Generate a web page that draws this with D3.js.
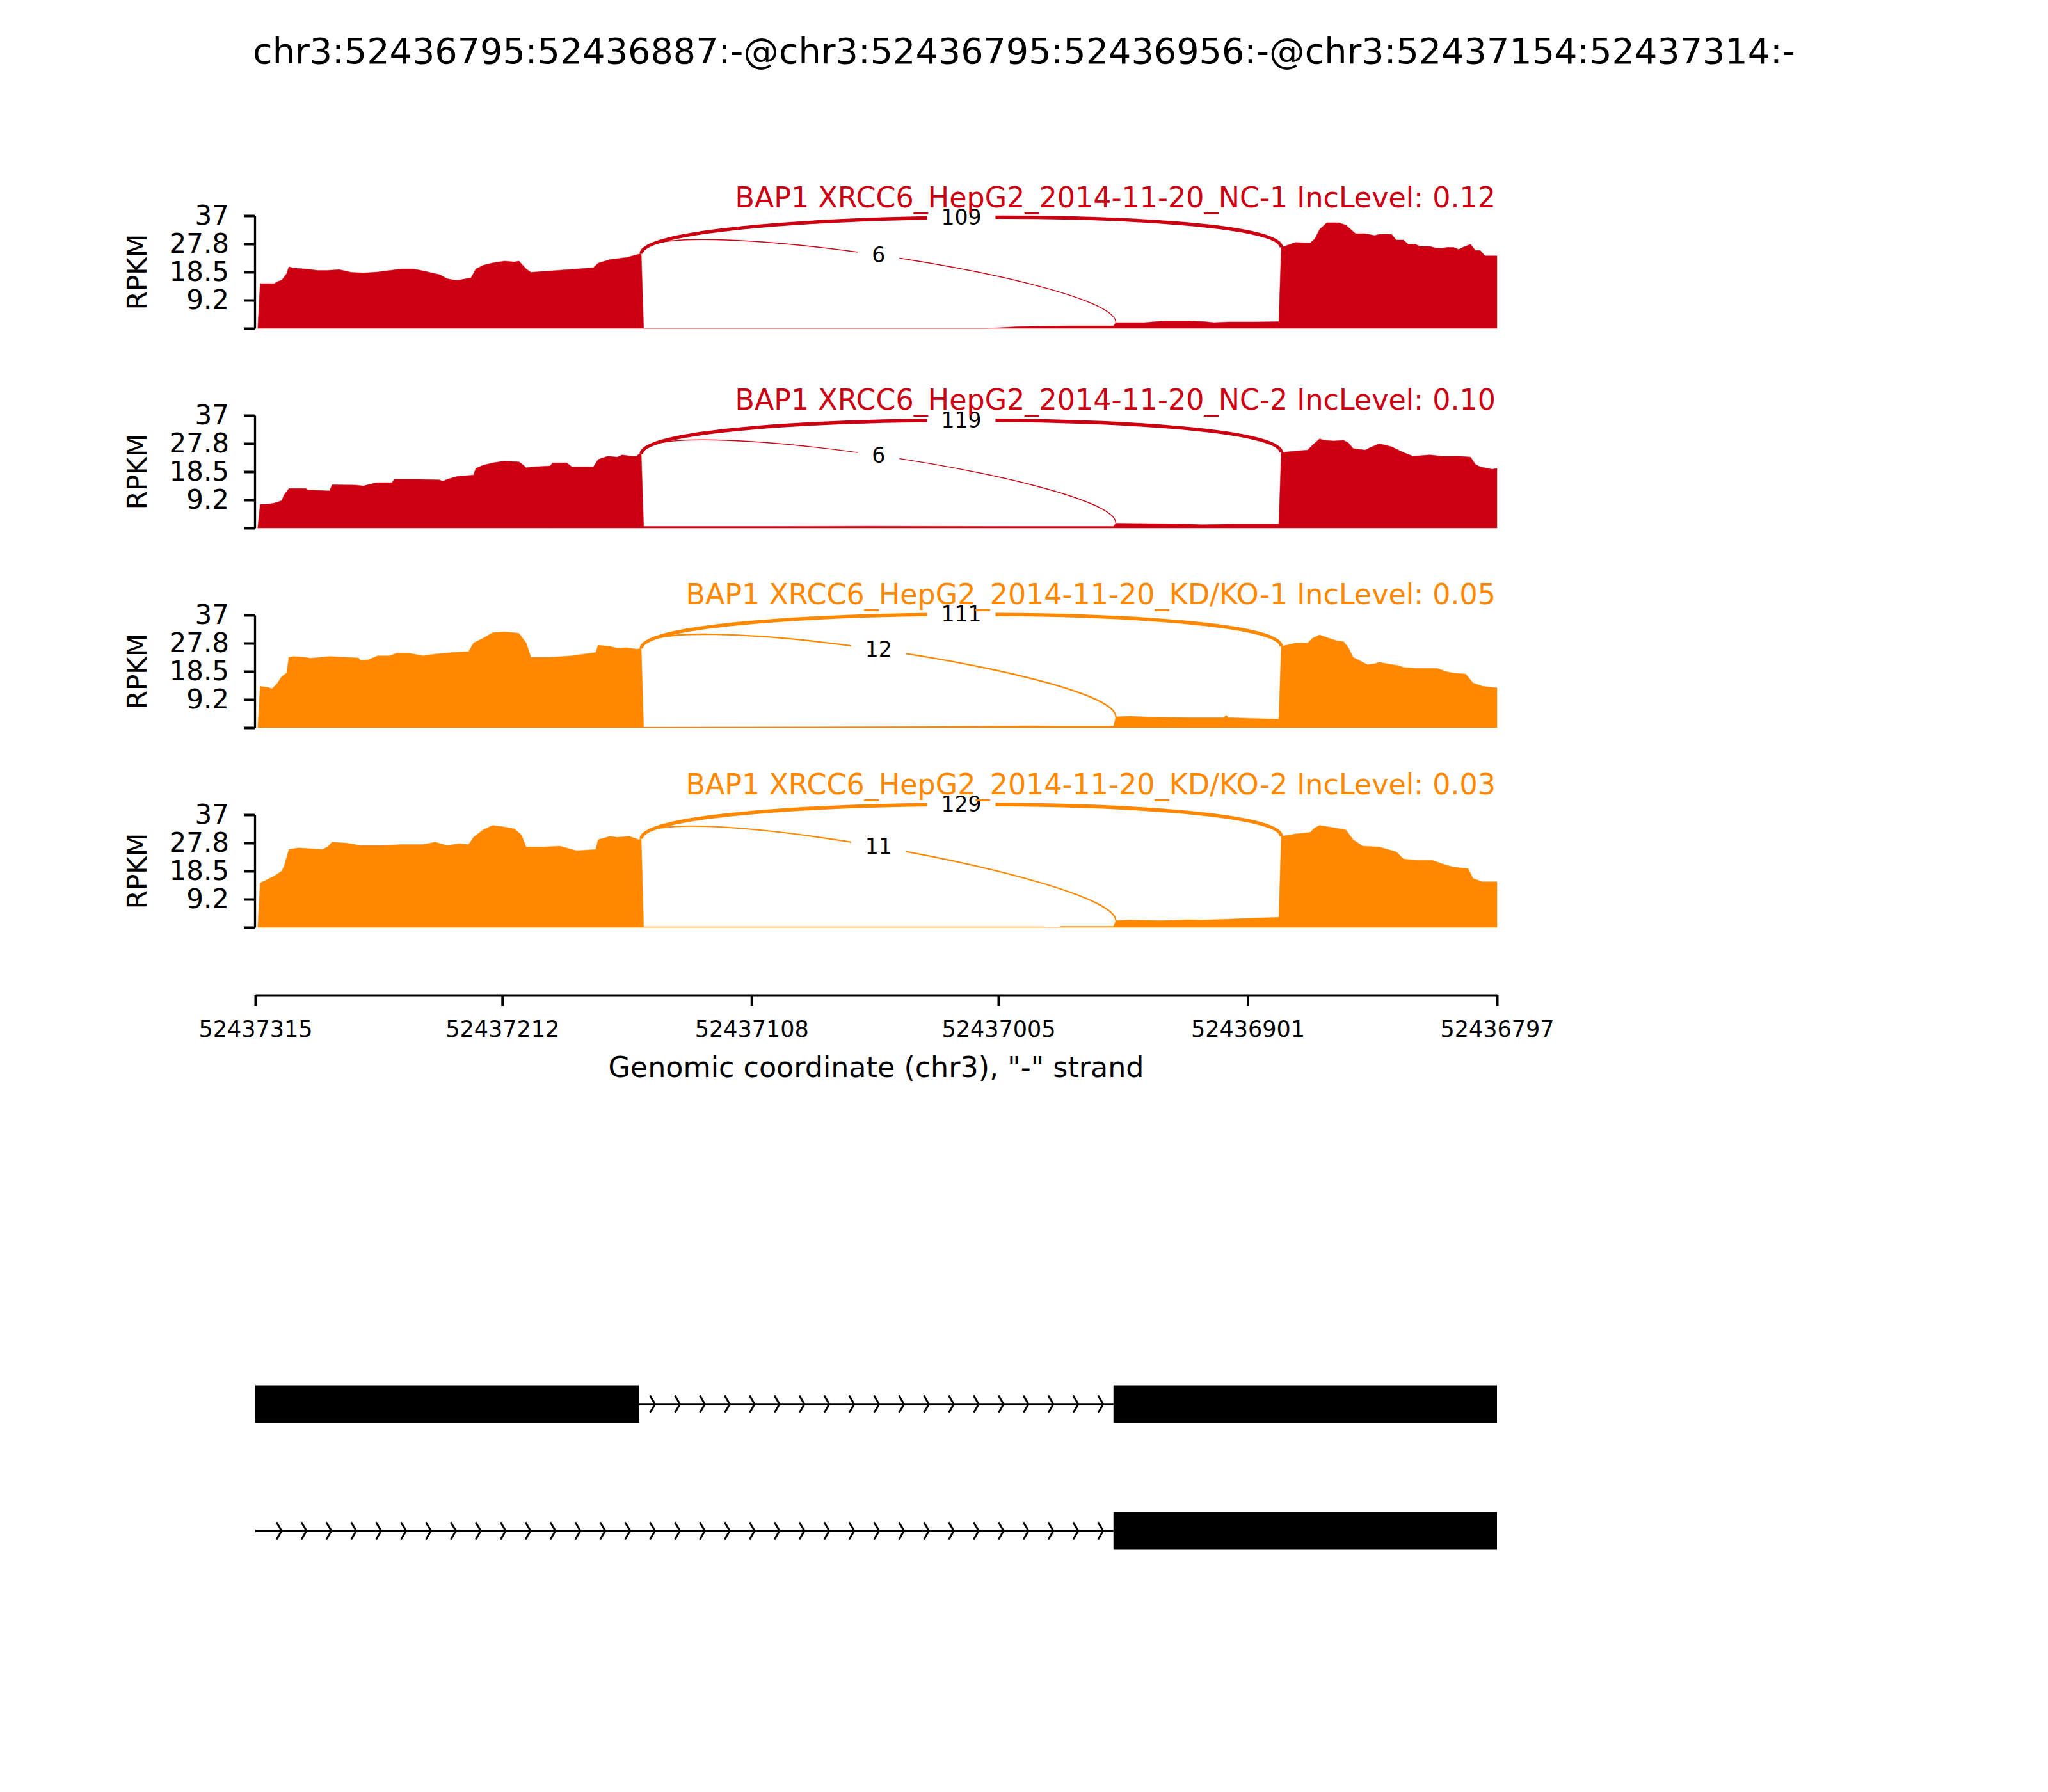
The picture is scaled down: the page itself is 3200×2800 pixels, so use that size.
<!DOCTYPE html>
<html><head><meta charset="utf-8">
<script src="https://cdn.jsdelivr.net/npm/d3@7"></script>
<style>
body{margin:0;background:#fff}
svg text{font-family:"DejaVu Sans",sans-serif}
</style>
</head><body>
<svg id="chart" width="3200" height="2800"></svg>
<script>
// ---------------- DATA ----------------
const titleText = "chr3:52436795:52436887:-@chr3:52436795:52436956:-@chr3:52437154:52437314:-";
const sampleNames = [
  "BAP1 XRCC6_HepG2_2014-11-20_NC-1",
  "BAP1 XRCC6_HepG2_2014-11-20_NC-2",
  "BAP1 XRCC6_HepG2_2014-11-20_KD/KO-1",
  "BAP1 XRCC6_HepG2_2014-11-20_KD/KO-2"
];
const incLevels = ["0.12", "0.10", "0.05", "0.03"];
const sampleColors = ["#CC0011", "#CC0011", "#FF8800", "#FF8800"];
const xDomain = [52437315, 52436797];
const xTicks = [52437315, 52437212, 52437108, 52437005, 52436901, 52436797];
const yMax = 37;
const yTicks = [0, 9.25, 18.5, 27.75, 37];
const yTickLabels = ["", "9.2", "18.5", "27.8", "37"];
const junctions = [[52437154, 52436887], [52437154, 52436956]];
const junctionCounts = [[109, 6], [119, 6], [111, 12], [129, 11]];
const isoform1Exons = [[52437154, 52437314], [52436795, 52436956]];
const isoform2Exons = [[52436795, 52436956]];

const covNC1 = [[52437314,0],[52437313,14.7],[52437307,14.7],[52437306,15.3],[52437304,15.8],[52437302,17.9],[52437301,20.2],[52437299,19.8],[52437294,19.5],[52437289,19.0],[52437285,19.0],[52437280,19.3],[52437275,18.4],[52437270,18.2],[52437264,18.5],[52437259,19.0],[52437254,19.5],[52437249,19.5],[52437244,18.7],[52437238,17.6],[52437235,16.3],[52437231,15.7],[52437225,16.6],[52437223,19.5],[52437220,20.7],[52437216,21.5],[52437211,22.1],[52437207,21.8],[52437205,22.1],[52437202,19.5],[52437200,18.4],[52437195,18.7],[52437188,19.1],[52437181,19.5],[52437174,19.9],[52437172,21.4],[52437167,22.6],[52437160,23.3],[52437156,24.2],[52437154,24.5],[52437153,0],[52437010,0],[52436996,0.6],[52436975,0.8],[52436957,0.8],[52436956,1.9],[52436944,1.9],[52436941,2.1],[52436936,2.4],[52436926,2.4],[52436919,2.2],[52436915,1.9],[52436909,2.1],[52436898,2.1],[52436888,2.2],[52436887,26.6],[52436881,28.2],[52436875,28.0],[52436873,29.4],[52436871,32.5],[52436868,34.7],[52436863,34.7],[52436860,33.9],[52436856,31.1],[52436852,31.1],[52436848,30.5],[52436846,30.9],[52436841,30.9],[52436839,29.0],[52436836,29.0],[52436834,27.6],[52436831,27.6],[52436829,26.9],[52436825,26.9],[52436822,26.3],[52436820,26.3],[52436818,26.6],[52436815,26.6],[52436813,25.9],[52436811,26.7],[52436808,27.6],[52436806,25.6],[52436804,25.6],[52436802,23.8],[52436797,23.8]];

const covNC2 = [[52437314,0],[52437313,7.8],[52437310,7.8],[52437307,8.2],[52437304,9.0],[52437303,10.9],[52437301,13.0],[52437294,13.0],[52437293,12.5],[52437284,12.2],[52437283,14.2],[52437273,14.1],[52437270,13.8],[52437266,14.6],[52437264,14.9],[52437258,14.9],[52437257,16.0],[52437247,16.0],[52437238,15.8],[52437237,15.3],[52437235,16.0],[52437231,16.9],[52437224,17.4],[52437223,19.6],[52437220,20.6],[52437216,21.4],[52437211,22.0],[52437205,21.7],[52437204,21.2],[52437202,19.8],[52437199,20.1],[52437192,20.4],[52437191,21.4],[52437185,21.4],[52437183,20.1],[52437174,20.1],[52437172,22.5],[52437168,23.6],[52437164,23.3],[52437162,24.0],[52437158,23.6],[52437156,23.6],[52437155,24.3],[52437154,24.3],[52437153,0.5],[52437100,0.5],[52437060,0.6],[52437000,0.5],[52436957,0.5],[52436956,1.6],[52436937,1.4],[52436926,1.3],[52436920,1.1],[52436907,1.3],[52436888,1.3],[52436887,24.8],[52436881,25.3],[52436876,25.6],[52436874,27.2],[52436871,29.3],[52436869,28.8],[52436865,28.6],[52436861,28.8],[52436859,28.0],[52436857,26.1],[52436852,25.6],[52436850,26.4],[52436846,27.7],[52436841,26.7],[52436836,24.8],[52436832,23.6],[52436825,24.0],[52436820,23.6],[52436813,23.6],[52436808,23.3],[52436806,20.9],[52436804,20.1],[52436799,19.3],[52436797,19.6]];

const covKD1 = [[52437314,0],[52437313,13.6],[52437310,13.3],[52437308,12.8],[52437306,14.4],[52437304,16.8],[52437302,17.9],[52437301,23.1],[52437299,23.4],[52437294,23.1],[52437292,22.8],[52437284,23.4],[52437272,22.9],[52437271,22.0],[52437268,22.3],[52437264,23.6],[52437259,23.6],[52437256,24.5],[52437251,24.5],[52437245,23.6],[52437240,24.2],[52437233,24.7],[52437226,25.0],[52437224,27.8],[52437220,29.4],[52437216,31.2],[52437211,31.5],[52437207,31.2],[52437205,31.0],[52437202,27.8],[52437200,23.1],[52437192,23.1],[52437183,23.6],[52437178,24.2],[52437173,24.7],[52437172,27.1],[52437167,26.7],[52437164,26.1],[52437160,26.3],[52437156,25.8],[52437154,26.0],[52437153,0.2],[52437060,0.3],[52437005,0.5],[52436990,0.6],[52436985,0.5],[52436957,0.5],[52436956,3.6],[52436950,3.8],[52436943,3.5],[52436926,3.3],[52436911,3.3],[52436910,4.1],[52436909,3.3],[52436897,3.0],[52436888,2.8],[52436887,26.7],[52436881,27.8],[52436876,27.8],[52436874,29.4],[52436871,30.5],[52436867,29.4],[52436864,28.6],[52436861,28.3],[52436859,26.3],[52436857,23.1],[52436851,20.7],[52436848,21.0],[52436846,21.5],[52436843,21.0],[52436838,20.4],[52436836,19.8],[52436831,19.5],[52436822,19.5],[52436818,18.4],[52436815,17.9],[52436810,17.6],[52436807,14.7],[52436803,13.6],[52436797,13.1]];

const covKD2 = [[52437314,0],[52437313,14.6],[52437312,15.0],[52437310,15.7],[52437307,16.9],[52437304,18.5],[52437303,20.1],[52437301,25.6],[52437297,26.1],[52437287,25.6],[52437285,26.4],[52437283,28.0],[52437277,27.7],[52437271,26.9],[52437263,26.9],[52437254,27.2],[52437245,27.2],[52437240,28.0],[52437235,26.9],[52437230,27.5],[52437226,27.2],[52437224,29.6],[52437220,32.0],[52437216,33.5],[52437212,33.1],[52437207,32.4],[52437204,30.4],[52437202,26.4],[52437195,26.4],[52437188,26.7],[52437181,25.2],[52437173,25.6],[52437172,28.8],[52437167,29.9],[52437164,29.6],[52437159,29.9],[52437155,28.8],[52437154,29.1],[52437153,0.2],[52436986,0.2],[52436985,0],[52436980,0],[52436979,0.3],[52436957,0.3],[52436956,2.2],[52436950,2.4],[52436937,2.2],[52436926,2.5],[52436920,2.4],[52436909,2.7],[52436900,3.0],[52436888,3.3],[52436887,29.9],[52436881,30.7],[52436875,31.2],[52436873,32.7],[52436871,33.5],[52436867,33.0],[52436860,32.0],[52436857,28.8],[52436853,26.7],[52436846,26.4],[52436839,24.8],[52436836,22.5],[52436831,22.0],[52436824,22.0],[52436818,20.4],[52436815,19.8],[52436809,19.3],[52436807,16.1],[52436803,15.0],[52436797,15.0]];

const coverages = [covNC1, covNC2, covKD1, covKD2];

// ---------------- LAYOUT ----------------
const W = 3200;
const plotLeft = 399, plotRight = 2339;
const panelTop0 = 337, panelStep = 312, panelH = 176;
const arcLift = 14.5;               // bezier control height in data units
const svg = d3.select("#chart");

const x = d3.scaleLinear().domain(xDomain).range([plotLeft, plotRight]);
const arcW = d3.scaleLinear().domain([Math.log(7), Math.log(130)]).range([1.4, 5.6]);

function valueAt(data, g) {
  for (let i = 0; i < data.length; i++) {
    if (data[i][0] === g) return data[i][1];
    if (i > 0 && data[i-1][0] > g && data[i][0] < g) {
      const t = (data[i-1][0] - g) / (data[i-1][0] - data[i][0]);
      return data[i-1][1] + t * (data[i][1] - data[i-1][1]);
    }
  }
  return 0;
}

// suptitle
svg.append("text").attr("x", W/2).attr("y", 99).attr("text-anchor", "middle")
  .attr("font-size", 55.6).attr("fill", "#000").text(titleText);

coverages.forEach((cov, i) => {
  const top = panelTop0 + i * panelStep;
  const y = d3.scaleLinear().domain([0, yMax]).range([top + panelH, top]);
  const color = sampleColors[i];
  const g = svg.append("g");

  // coverage
  const area = d3.area().x(d => x(d[0])).y0(y(0)).y1(d => y(d[1]));
  g.append("path").datum(cov).attr("d", area)
    .attr("fill", color).attr("stroke", color).attr("stroke-width", 1).attr("stroke-opacity", 0.45);

  // y axis
  const ax = d3.axisLeft(y).tickValues(yTicks).tickSize(17).tickSizeOuter(0).tickPadding(23)
    .tickFormat((d, k) => yTickLabels[k]);
  const ag = g.append("g").attr("transform", `translate(${plotLeft - 1},0)`).call(ax);
  ag.select(".domain").attr("stroke", "#000").attr("stroke-width", 3.3);
  ag.selectAll(".tick line").attr("stroke", "#000").attr("stroke-width", 4);
  ag.selectAll(".tick text").attr("font-size", 42).attr("font-family", "DejaVu Sans").attr("fill", "#000");

  // RPKM label
  g.append("text").attr("transform", `translate(214,${top + panelH/2}) rotate(-90)`)
    .attr("text-anchor", "middle").attr("dominant-baseline", "central")
    .attr("font-size", 42).attr("fill", "#000").text("RPKM");

  // junction arcs
  const labels = [];
  junctions.forEach((j, k) => {
    const cnt = junctionCounts[i][k];
    const ld = valueAt(cov, j[0]), rd = valueAt(cov, j[1]);
    const x1 = x(j[0]), x2 = x(j[1]);
    const p = d3.path();
    p.moveTo(x1, y(ld));
    p.bezierCurveTo(x1, y(ld + arcLift), x2, y(rd + arcLift), x2, y(rd));
    g.append("path").attr("d", p.toString()).attr("fill", "none")
      .attr("stroke", color).attr("stroke-width", arcW(Math.log(cnt + 1)));
    const midV = (ld + rd) / 2 + 0.75 * arcLift;
    labels.push({x: (x1 + x2) / 2, y: y(midV), cnt});
  });
  labels.forEach(l => {
    const t = g.append("text").attr("x", l.x).attr("y", l.y).attr("text-anchor", "middle")
      .attr("dominant-baseline", "central").attr("font-size", 33).attr("fill", "#000").text(l.cnt);
    const bb = t.node().getBBox();
    g.insert("rect", () => t.node()).attr("x", bb.x - 22).attr("y", bb.y - 22)
      .attr("width", bb.width + 44).attr("height", bb.height + 44).attr("fill", "#fff");
  });

  // panel title
  const bigLabelY = d3.min(labels, l => l.y);
  g.append("text").attr("x", plotRight - 2).attr("y", bigLabelY - 16).attr("text-anchor", "end")
    .attr("font-size", 44.4).attr("fill", color)
    .text(`${sampleNames[i]} IncLevel: ${incLevels[i]}`);
});

// x axis
const xAxisY = 1555;
const xa = d3.axisBottom(x).tickValues(xTicks).tickSize(17).tickSizeOuter(0).tickPadding(23)
  .tickFormat(d3.format("d"));
const xg = svg.append("g").attr("transform", `translate(0,${xAxisY})`).call(xa);
xg.select(".domain").attr("stroke", "#000").attr("stroke-width", 4);
xg.selectAll(".tick line").attr("stroke", "#000").attr("stroke-width", 4);
xg.selectAll(".tick text").attr("font-size", 35).attr("font-family", "DejaVu Sans").attr("fill", "#000");
svg.append("text").attr("x", (plotLeft + plotRight) / 2).attr("y", 1683).attr("text-anchor", "middle")
  .attr("font-size", 44.4).attr("fill", "#000").text('Genomic coordinate (chr3), "-" strand');

// gene models
const isoforms = [isoform1Exons, isoform2Exons];
const isoY = [2194, 2392];
const blockH = 59, chevStep = 38.9, chevStart = 440;
isoforms.forEach((exons, r) => {
  const cy = isoY[r];
  const gg = svg.append("g");
  const spans = exons.map(e => [Math.max(plotLeft, x(e[1] + 1)), Math.min(plotRight, x(e[0] + 1))])
    .sort((a, b) => a[0] - b[0]);
  const introns = [];
  let cur = plotLeft;
  spans.forEach(s => { if (s[0] > cur + 1) introns.push([cur, s[0]]); cur = Math.max(cur, s[1]); });
  introns.forEach(seg => {
    gg.append("line").attr("x1", seg[0]).attr("x2", seg[1]).attr("y1", cy).attr("y2", cy)
      .attr("stroke", "#000").attr("stroke-width", 3.5);
    const tips = d3.range(0, 60).map(k => chevStart + k * chevStep).filter(t => t > seg[0] + 14 && t < seg[1] - 4);
    tips.forEach(t => {
      gg.append("path").attr("d", `M${t - 8},${cy - 13.5} L${t},${cy} L${t - 8},${cy + 13.5}`)
        .attr("fill", "none").attr("stroke", "#000").attr("stroke-width", 3);
    });
  });
  spans.forEach(s => {
    gg.append("rect").attr("x", s[0]).attr("y", cy - blockH / 2).attr("width", s[1] - s[0])
      .attr("height", blockH).attr("fill", "#000");
  });
});
</script>
</body></html>
